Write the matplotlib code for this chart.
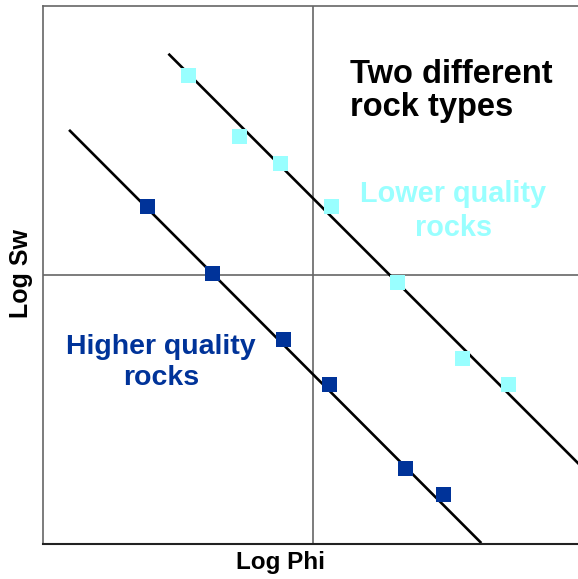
import matplotlib
matplotlib.use('Agg')
import matplotlib.pyplot as plt

plt.rcParams['font.family'] = ['Liberation Sans', 'DejaVu Sans']

# Log Phi / Log Sw coordinates, axes centred on the origin
higher_phi = [-0.614, -0.375, -0.111, 0.059, 0.340, 0.481]
higher_sw = [0.258, 0.009, -0.238, -0.405, -0.719, -0.813]

lower_phi = [-0.464, -0.275, -0.121, 0.068, 0.310, 0.552, 0.723]
lower_sw = [0.743, 0.517, 0.415, 0.257, -0.026, -0.309, -0.405]

# trend line end points
higher_fit_phi = [-0.900, 0.620]
higher_fit_sw = [0.536, -0.993]
lower_fit_phi = [-0.532, 1.000]
lower_fit_sw = [0.819, -0.718]

dark_blue = '#003399'
light_cyan = '#99FFFF'

fig = plt.figure(figsize=(5.78, 5.79), dpi=100)
ax = fig.add_axes([43 / 578, 35 / 579, 540 / 578, 538 / 579])
ax.set_xlim(-1, 1)
ax.set_ylim(-1, 1)
ax.set_xticks([])
ax.set_yticks([])
for name in ['left', 'top', 'right']:
    ax.spines[name].set_color('#666666')
    ax.spines[name].set_linewidth(1.2)
ax.spines['bottom'].set_color('#222222')
ax.spines['bottom'].set_linewidth(1.5)

ax.axhline(0, color='#666666', lw=1.2, zorder=1)
ax.axvline(0, color='#666666', lw=1.2, zorder=1)

ax.plot(higher_fit_phi, higher_fit_sw, color='black', lw=1.9, zorder=2)
ax.plot(lower_fit_phi, lower_fit_sw, color='black', lw=1.9, zorder=2)

ax.plot(higher_phi, higher_sw, 's', color=dark_blue, markersize=10.8,
        markeredgewidth=0, zorder=3)
ax.plot(lower_phi, lower_sw, 's', color=light_cyan, markersize=10.8,
        markeredgewidth=0, zorder=3)

ax.text(0.137, 0.684, 'Two different\nrock types', ha='left', va='center',
        fontsize=23.5, fontweight='bold', color='black', linespacing=1.12)
ax.text(0.519, 0.237, 'Lower quality\nrocks', ha='center', va='center',
        fontsize=20.8, fontweight='bold', color=light_cyan, linespacing=1.28)
ax.text(-0.563, -0.325, 'Higher quality\nrocks', ha='center', va='center',
        fontsize=20.5, fontweight='bold', color=dark_blue, linespacing=1.28)

fig.text(280 / 578, 1 - 562 / 579, 'Log Phi', ha='center', va='center',
         fontsize=17.5, fontweight='bold')
fig.text(21 / 578, 1 - 274 / 579, 'Log Sw', ha='center', va='center',
         rotation=90, fontsize=18, fontweight='bold')

fig.savefig('out.png', dpi=100)
